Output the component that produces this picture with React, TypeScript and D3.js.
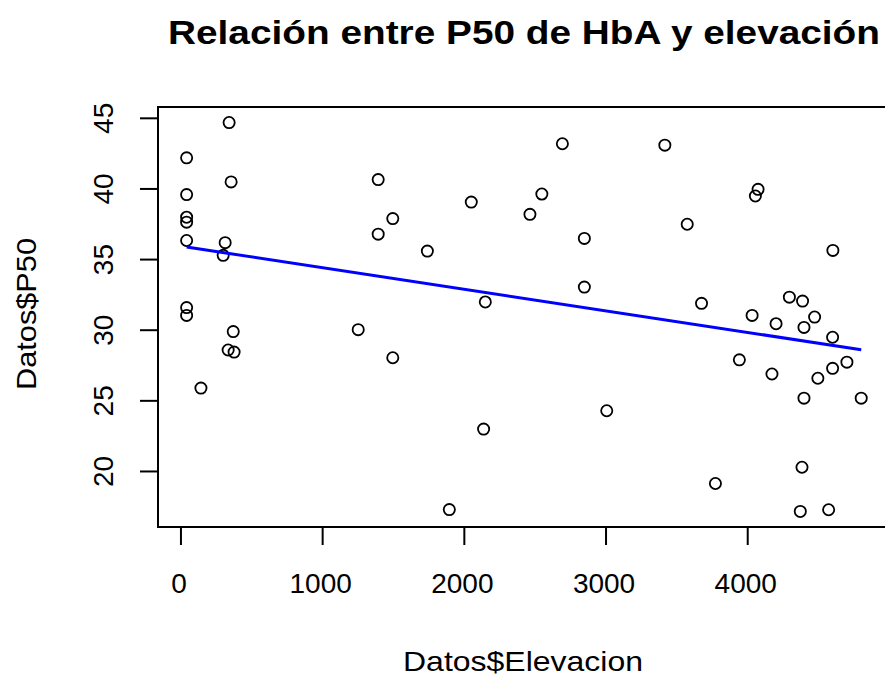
import React, { useEffect, useRef } from 'react';
import * as d3 from 'd3';

// elevation (m) and P50 values
const elevacion = [
  340, 40, 354, 40, 40, 40, 40, 312, 298, 40, 40,
  1392, 1495, 1392, 1739, 369, 333, 375, 141, 1251, 1495, 1894,
  2692, 3415, 2049, 2547, 2463, 2847, 3573, 2847, 2148, 3674, 2136, 3005, 3772,
  4073, 4054, 4601, 4294, 4387, 4031, 4200, 4397, 4472, 4599,
  3941, 4171, 4495, 4599, 4700, 4397, 4801, 4383, 4371, 4571,
];
const p50 = [
  44.7, 42.2, 40.5, 39.6, 38.0, 37.65, 36.35, 36.2, 35.3, 31.6, 31.05,
  40.66, 37.9, 36.8, 35.6, 29.9, 28.6, 28.45, 25.9, 30.04, 28.05, 17.3,
  43.2, 43.1, 39.07, 39.64, 38.2, 36.5, 37.5, 33.05, 32.0, 31.9, 23.0, 24.3, 19.15,
  39.97, 39.5, 35.65, 32.34, 32.06, 31.05, 30.46, 30.2, 30.93, 29.5,
  27.9, 26.9, 26.6, 27.3, 27.74, 25.19, 25.19, 20.3, 17.17, 17.29,
];
const xTicks = [0, 1000, 2000, 3000, 4000];
const yTicks = [20, 25, 30, 35, 40, 45];

const W = 885;
const H = 677;

export default function App() {
  const ref = useRef<SVGSVGElement>(null);

  useEffect(() => {
    const svg = d3.select(ref.current);
    svg.selectAll('*').remove();

    const left = 158, right = 888, top = 107, bottom = 527;

    const xr = d3.extent(elevacion) as [number, number];
    const yr = d3.extent(p50) as [number, number];
    const yp = (yr[1] - yr[0]) * 0.04;
    const x = d3.scaleLinear().domain([-162, 4990]).range([left, right]);
    const y = d3.scaleLinear().domain([yr[0] - yp, yr[1] + yp]).range([bottom, top]);

    const font = 'Liberation Sans, Arial, sans-serif';

    // title
    svg.append('text')
      .attr('x', 524).attr('y', 44)
      .attr('text-anchor', 'middle')
      .attr('font-family', font).attr('font-weight', 'bold')
      .attr('font-size', 33)
      .attr('textLength', 712).attr('lengthAdjust', 'spacingAndGlyphs')
      .text('Relación entre P50 de HbA y elevación');

    // box
    svg.append('rect')
      .attr('x', left).attr('y', top)
      .attr('width', right - left).attr('height', bottom - top)
      .attr('fill', 'none').attr('stroke', '#000').attr('stroke-width', 2);

    // x axis
    const gx = svg.append('g');
    gx.append('line')
      .attr('x1', x(xTicks[0])).attr('x2', x(xTicks[xTicks.length - 1]))
      .attr('y1', bottom).attr('y2', bottom)
      .attr('stroke', '#000').attr('stroke-width', 2);
    gx.selectAll('line.t').data(xTicks).enter().append('line')
      .attr('class', 't')
      .attr('x1', d => x(d)).attr('x2', d => x(d))
      .attr('y1', bottom).attr('y2', bottom + 18)
      .attr('stroke', '#000').attr('stroke-width', 2);
    gx.selectAll('text').data(xTicks).enter().append('text')
      .attr('x', d => x(d) - 2).attr('y', 593)
      .attr('text-anchor', 'middle')
      .attr('font-family', font).attr('font-size', 28)
      .text(d => String(d));

    // y axis
    const gy = svg.append('g');
    gy.append('line')
      .attr('x1', left).attr('x2', left)
      .attr('y1', y(yTicks[0])).attr('y2', y(yTicks[yTicks.length - 1]))
      .attr('stroke', '#000').attr('stroke-width', 2);
    gy.selectAll('line.t').data(yTicks).enter().append('line')
      .attr('class', 't')
      .attr('x1', left - 18).attr('x2', left)
      .attr('y1', d => y(d)).attr('y2', d => y(d))
      .attr('stroke', '#000').attr('stroke-width', 2);
    gy.selectAll('text').data(yTicks).enter().append('text')
      .attr('transform', d => `translate(113,${y(d)}) rotate(-90)`)
      .attr('text-anchor', 'middle')
      .attr('font-family', font).attr('font-size', 28)
      .text(d => String(d));

    // axis labels
    svg.append('text')
      .attr('x', 523).attr('y', 671)
      .attr('text-anchor', 'middle')
      .attr('font-family', font).attr('font-size', 28)
      .attr('textLength', 240).attr('lengthAdjust', 'spacingAndGlyphs')
      .text('Datos$Elevacion');
    svg.append('text')
      .attr('transform', `translate(36,${(top + bottom) / 2 - 3}) rotate(-90)`)
      .attr('text-anchor', 'middle')
      .attr('font-family', font).attr('font-size', 28)
      .attr('textLength', 152).attr('lengthAdjust', 'spacingAndGlyphs')
      .text('Datos$P50');

    // points
    const pts = elevacion.map((e, i) => [e, p50[i]] as [number, number]);
    svg.append('g').selectAll('circle').data(pts).enter().append('circle')
      .attr('cx', d => x(d[0])).attr('cy', d => y(d[1]))
      .attr('r', 5.6)
      .attr('fill', 'none').attr('stroke', '#000').attr('stroke-width', 1.8);

    // least-squares fit over the data range
    const mx = d3.mean(elevacion) as number;
    const my = d3.mean(p50) as number;
    let sxy = 0, sxx = 0;
    pts.forEach(([a, b]) => { sxy += (a - mx) * (b - my); sxx += (a - mx) * (a - mx); });
    const slope = sxy / sxx;
    const icpt = my - slope * mx;
    const fit = xr.map(v => [v, icpt + slope * v] as [number, number]);
    svg.append('path')
      .attr('d', d3.line<[number, number]>().x(d => x(d[0])).y(d => y(d[1]))(fit))
      .attr('fill', 'none').attr('stroke', '#0000ff').attr('stroke-width', 3);
  }, []);

  return (
    <svg ref={ref} width={W} height={H}
      style={{ position: 'absolute', left: 0, top: 0, background: '#fff' }} />
  );
}
